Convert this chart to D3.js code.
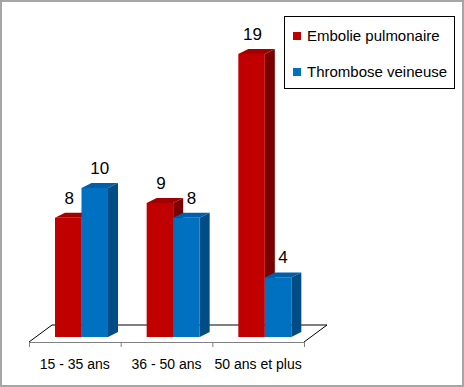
<!DOCTYPE html>
<html>
<head>
<meta charset="utf-8">
<script src="https://cdn.jsdelivr.net/npm/d3@7"></script>
<style>
  html, body { margin: 0; padding: 0; background: #fff; }
  text { font-family: "Liberation Sans", Arial, sans-serif; fill: #000; }
</style>
</head>
<body>
<div id="chart"></div>
<script>
const categories = ["15 - 35 ans", "36 - 50 ans", "50 ans et plus"];
const seriesNames = ["Embolie pulmonaire", "Thrombose veineuse"];
const embolie = [8, 9, 19];
const thrombose = [10, 8, 4];

const width = 464, height = 387;
const depth = { dx: 10, dy: 5 };       // bar depth
const floorDepth = { dx: 23, dy: 17 };  // floor depth

const colors = {
    "Embolie pulmonaire": { front: "#C00000", top: "#A00000", side: "#7A0000", lblDx: 1 },
    "Thrombose veineuse": { front: "#0070C0", top: "#005FA8", side: "#004C85", lblDx: 5 }
};

const data = categories.map((c, i) => ({
    cat: c,
    values: [
        { name: seriesNames[0], value: embolie[i] },
        { name: seriesNames[1], value: thrombose[i] }
    ]
}));

const svg = d3.select("#chart")
    .append("svg")
    .attr("width", width)
    .attr("height", height);

// outer frame
svg.append("rect")
    .attr("x", 1).attr("y", 1)
    .attr("width", width - 2).attr("height", height - 2)
    .attr("fill", "#fff")
    .attr("stroke", "#A6A6A6")
    .attr("stroke-width", 2);

const x = d3.scaleBand().domain(categories).range([29, 304]);
const xs = d3.scaleBand().domain(seriesNames).range([26, 79]);
const y = d3.scaleLinear().domain([0, 20]).range([337, 39]);

// floor
const fy = 342;
const x0 = x.range()[0], x1 = x.range()[1];
svg.append("path")
    .attr("d", `M${x0},${fy} L${x0 + floorDepth.dx},${fy - floorDepth.dy} L${x1 + floorDepth.dx},${fy - floorDepth.dy} L${x1},${fy}`)
    .attr("fill", "#fff")
    .attr("stroke", "#000")
    .attr("stroke-width", 1);

// front axis with ticks
const axisG = svg.append("g");
axisG.append("line")
    .attr("x1", x0).attr("x2", x1)
    .attr("y1", fy + 0.5).attr("y2", fy + 0.5)
    .attr("stroke", "#808080");
const tickXs = categories.map(c => x(c)).concat([x1]);
axisG.selectAll(".tick")
    .data(tickXs)
    .enter()
    .append("line")
    .attr("x1", d => d + 0.5).attr("x2", d => d + 0.5)
    .attr("y1", fy).attr("y2", fy + 5)
    .attr("stroke", "#808080");

axisG.selectAll(".lbl")
    .data(categories)
    .enter()
    .append("text")
    .attr("x", d => x(d) + x.bandwidth() / 2)
    .attr("y", 369)
    .attr("text-anchor", "middle")
    .style("font-size", "14px")
    .text(d => d);

// bars
const groups = svg.selectAll(".grp")
    .data(data)
    .enter()
    .append("g")
    .attr("transform", d => `translate(${x(d.cat)},0)`);

const bars = groups.selectAll(".bar")
    .data(d => d.values)
    .enter()
    .append("g");

bars.each(function (d) {
    const g = d3.select(this);
    const bx = xs(d.name), bw = xs.bandwidth();
    const top = y(d.value), bot = y(0);
    const c = colors[d.name];
    // side
    g.append("path")
        .attr("d", `M${bx + bw},${top} L${bx + bw + depth.dx},${top - depth.dy} L${bx + bw + depth.dx},${bot - depth.dy} L${bx + bw},${bot} Z`)
        .attr("fill", c.side);
    // top
    g.append("path")
        .attr("d", `M${bx},${top} L${bx + depth.dx},${top - depth.dy} L${bx + bw + depth.dx},${top - depth.dy} L${bx + bw},${top} Z`)
        .attr("fill", c.top);
    // front
    g.append("rect")
        .attr("x", bx).attr("y", top)
        .attr("width", bw).attr("height", bot - top)
        .attr("fill", c.front);
    // value label
    g.append("text")
        .attr("x", bx + bw / 2 + c.lblDx)
        .attr("y", top - 14)
        .attr("text-anchor", "middle")
        .style("font-size", "17px")
        .text(d.value);
});

// legend
const legend = svg.append("g");
legend.append("rect")
    .attr("x", 284.5).attr("y", 16.5)
    .attr("width", 170).attr("height", 72)
    .attr("fill", "#fff")
    .attr("stroke", "#000");

const li = legend.selectAll(".li")
    .data(seriesNames)
    .enter()
    .append("g")
    .attr("transform", (d, i) => `translate(293,${32 + i * 36})`);
li.append("rect")
    .attr("width", 8).attr("height", 8)
    .attr("fill", d => colors[d].front);
li.append("text")
    .attr("x", 14)
    .attr("y", 9)
    .style("font-size", "15px")
    .text(d => d);
</script>
</body>
</html>
